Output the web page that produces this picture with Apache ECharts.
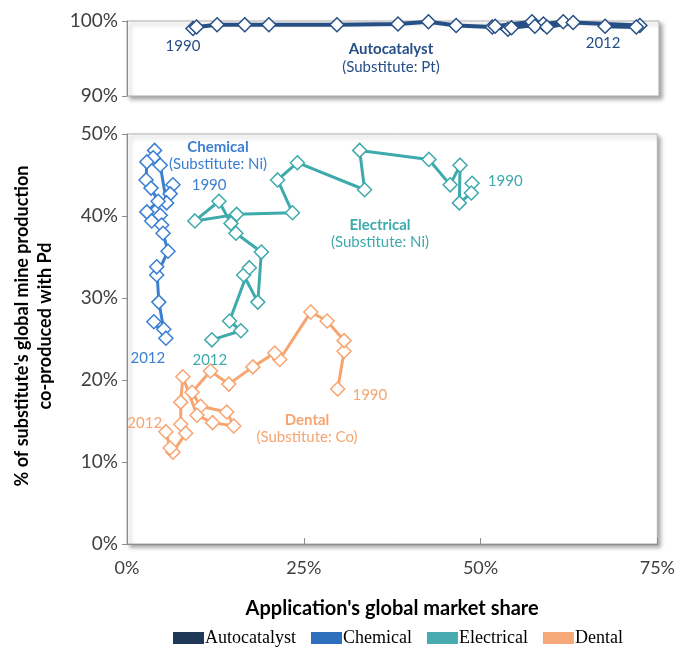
<!DOCTYPE html>
<html>
<head>
<meta charset="utf-8">
<script src="https://cdn.jsdelivr.net/npm/echarts@6/dist/echarts.min.js"></script>
<style>
html,body{margin:0;padding:0;background:#fff}
#chart{width:678px;height:649px}
</style>
</head>
<body>
<div id="chart"></div>
<script>
// market share (%) / share co-produced with Pd (%), 1990 -> 2012
var autoX = [9.3, 9.8, 12.7, 16.6, 20.0, 29.6, 38.2, 42.5, 46.4, 51.5, 53.7, 57.1, 51.9, 54.2, 58.7, 61.5, 57.5, 59.2, 62.9, 72.3, 71.8, 67.4];
var autoY = [99.0, 99.2, 99.5, 99.5, 99.5, 99.5, 99.6, 99.9, 99.4, 99.2, 98.9, 99.9, 99.3, 99.1, 99.6, 99.9, 99.3, 99.2, 99.8, 99.4, 99.2, 99.3];

var chemX = [6.5, 6.1, 5.6, 4.7, 3.9, 3.7, 2.8, 2.7, 3.4, 4.4, 2.8, 3.5, 4.7, 4.9, 5.1, 5.8, 4.2, 4.2, 4.5, 5.2, 5.5, 3.8];
var chemY = [43.8, 42.7, 41.6, 46.2, 48.0, 47.1, 46.6, 44.4, 43.4, 41.8, 40.5, 39.4, 40.1, 38.9, 37.9, 35.7, 32.8, 33.8, 29.5, 26.2, 25.1, 27.1];

var elecX = [48.8, 48.7, 47.0, 47.1, 45.7, 42.7, 32.9, 33.6, 24.1, 21.3, 23.4, 15.5, 9.6, 13.0, 14.7, 15.4, 19.0, 18.5, 16.5, 17.3, 14.5, 16.1, 12.0];
var elecY = [44.0, 42.8, 41.6, 46.2, 43.8, 46.9, 48.0, 43.2, 46.5, 44.4, 40.4, 40.2, 39.4, 41.8, 39.1, 37.9, 35.6, 29.5, 32.8, 33.7, 27.2, 26.0, 24.9];

var dentX = [29.8, 30.7, 30.7, 28.3, 26.0, 21.6, 20.9, 17.8, 14.4, 11.8, 9.2, 10.4, 14.1, 15.1, 12.1, 9.9, 7.9, 7.6, 7.6, 8.3, 6.5, 6.1, 5.5];
var dentY = [18.9, 23.5, 24.8, 27.2, 28.3, 22.5, 23.3, 21.6, 19.5, 21.1, 18.5, 16.8, 16.1, 14.4, 14.8, 15.7, 20.4, 17.3, 14.6, 13.5, 11.2, 11.7, 13.7];

var yearFirst = '1990', yearLast = '2012';

var cAuto = '#264f86', cChem = '#3a7fd2', cElec = '#3eaaac', cDent = '#f7a46f';

function pts(xs, ys, firstLbl, lastLbl, color) {
	var out = [];
	for (var i = 0; i < xs.length; i++) {
		var d = {value: [xs[i], ys[i]]};
		if (i == 0) d.label = Object.assign({show: true, formatter: yearFirst, color: color}, firstLbl);
		if (i == xs.length - 1) d.label = Object.assign({show: true, formatter: yearLast, color: color}, lastLbl);
		out.push(d);
	}
	return out;
}

function mkSeries(name, xs, ys, color, idx, lw, firstLbl, lastLbl) {
	return {
		name: name,
		type: 'line',
		xAxisIndex: idx,
		yAxisIndex: idx,
		data: pts(xs, ys, firstLbl, lastLbl, color),
		symbol: 'diamond',
		symbolSize: [14, 14],
		showAllSymbol: true,
		lineStyle: {color: color, width: lw},
		itemStyle: {color: '#fff', borderColor: color, borderWidth: 1.5},
		label: {fontFamily: 'Lato', fontSize: 15},
		emphasis: {disabled: true},
		animation: false
	};
}

var myChart = echarts.init(document.getElementById('chart'));
var axLine = {lineStyle: {color: '#8c8c8c', width: 1}};
var yLbl = {fontFamily: 'Lato', fontSize: 19, color: '#404040', margin: 9};

var option = {
	backgroundColor: '#fff',
	animation: false,
	grid: [{
		left: 127, right: 19, top: 21, height: 75,
		show: true, backgroundColor: '#fff', borderColor: '#b0b0b0', borderWidth: 1,
		shadowColor: 'rgba(0,0,0,0.35)', shadowBlur: 4, shadowOffsetX: 3, shadowOffsetY: 3
	}, {
		left: 127, right: 19, top: 134, height: 410,
		show: true, backgroundColor: '#fff', borderColor: '#b0b0b0', borderWidth: 1,
		shadowColor: 'rgba(0,0,0,0.35)', shadowBlur: 4, shadowOffsetX: 3, shadowOffsetY: 3
	}],
	xAxis: [{
		gridIndex: 0, type: 'value', min: 0, max: 75, interval: 25,
		axisLine: {show: false}, axisTick: {show: false}, axisLabel: {show: false}, splitLine: {show: false}
	}, {
		gridIndex: 1, type: 'value', min: 0, max: 75, interval: 25,
		axisLine: axLine,
		axisTick: {show: true, inside: true, length: 6, lineStyle: {color: '#8c8c8c'}},
		axisLabel: {fontFamily: 'Lato', fontSize: 18, color: '#404040', margin: 15, formatter: '{value}%'},
		splitLine: {show: false},
		name: "Application's global market share",
		nameLocation: 'middle', nameGap: 55,
		nameTextStyle: {fontFamily: 'Lato', fontSize: 20, fontWeight: 'bold', color: '#000'}
	}],
	yAxis: [{
		gridIndex: 0, type: 'value', min: 90, max: 100, interval: 10,
		axisLine: {show: true, lineStyle: {color: '#8c8c8c'}},
		axisTick: {show: true, length: 5, lineStyle: {color: '#8c8c8c'}},
		axisLabel: Object.assign({formatter: '{value}%'}, yLbl),
		splitLine: {show: false}
	}, {
		gridIndex: 1, type: 'value', min: 0, max: 50, interval: 10,
		axisLine: {show: true, lineStyle: {color: '#8c8c8c'}},
		axisTick: {show: true, length: 5, lineStyle: {color: '#8c8c8c'}},
		axisLabel: Object.assign({formatter: '{value}%'}, yLbl),
		splitLine: {show: false}
	}],
	legend: {
		bottom: -3, left: 168,
		icon: 'rect', itemWidth: 31, itemHeight: 12, itemGap: 15,
		textStyle: {fontFamily: 'Liberation Serif', fontSize: 18, color: '#000', padding: [0, 0, 0, -4]},
		data: [
			{name: 'Autocatalyst', itemStyle: {color: '#203858', borderWidth: 0}},
			{name: 'Chemical', itemStyle: {color: '#2e70bb', borderWidth: 0}},
			{name: 'Electrical', itemStyle: {color: '#48abb0', borderWidth: 0}},
			{name: 'Dental', itemStyle: {color: '#f6a878', borderWidth: 0}}
		]
	},
	graphic: [
		{type: 'text', rotation: Math.PI / 2, x: 34, y: 326,
			style: {text: "% of substitute's global mine production\nco-produced with Pd", align: 'center', verticalAlign: 'middle',
				font: 'bold 18px Lato', fill: '#000', lineHeight: 23}},
		{type: 'text', x: 391, y: 49, style: {text: 'Autocatalyst', align: 'center', verticalAlign: 'middle', font: 'bold 15px Lato', fill: cAuto}},
		{type: 'text', x: 391, y: 67, style: {text: '(Substitute: Pt)', align: 'center', verticalAlign: 'middle', font: '15px Lato', fill: cAuto}},
		{type: 'text', x: 218, y: 147, style: {text: 'Chemical', align: 'center', verticalAlign: 'middle', font: 'bold 15px Lato', fill: cChem}},
		{type: 'text', x: 218, y: 164, style: {text: '(Substitute: Ni)', align: 'center', verticalAlign: 'middle', font: '15px Lato', fill: cChem}},
		{type: 'text', x: 380, y: 225, style: {text: 'Electrical', align: 'center', verticalAlign: 'middle', font: 'bold 15px Lato', fill: cElec}},
		{type: 'text', x: 380, y: 242, style: {text: '(Substitute: Ni)', align: 'center', verticalAlign: 'middle', font: '15px Lato', fill: cElec}},
		{type: 'text', x: 307, y: 420, style: {text: 'Dental', align: 'center', verticalAlign: 'middle', font: 'bold 15px Lato', fill: cDent}},
		{type: 'text', x: 307, y: 437, style: {text: '(Substitute: Co)', align: 'center', verticalAlign: 'middle', font: '15px Lato', fill: cDent}}
	],
	series: [
		mkSeries('Autocatalyst', autoX, autoY, cAuto, 0, 4,
			{position: 'bottom', offset: [-10, -3]}, {position: 'bottom', offset: [-2, -3]}),
		mkSeries('Chemical', chemX, chemY, cChem, 1, 3,
			{position: 'right', offset: [6, 0]}, {position: 'bottom', offset: [-6, 16]}),
		mkSeries('Electrical', elecX, elecY, cElec, 1, 3,
			{position: 'right', offset: [3, -2]}, {position: 'bottom', offset: [-2, 0]}),
		mkSeries('Dental', dentX, dentY, cDent, 1, 3,
			{position: 'right', offset: [2, 6]}, {position: 'left', offset: [9, -9]})
	]
};
myChart.setOption(option);
</script>
</body>
</html>
